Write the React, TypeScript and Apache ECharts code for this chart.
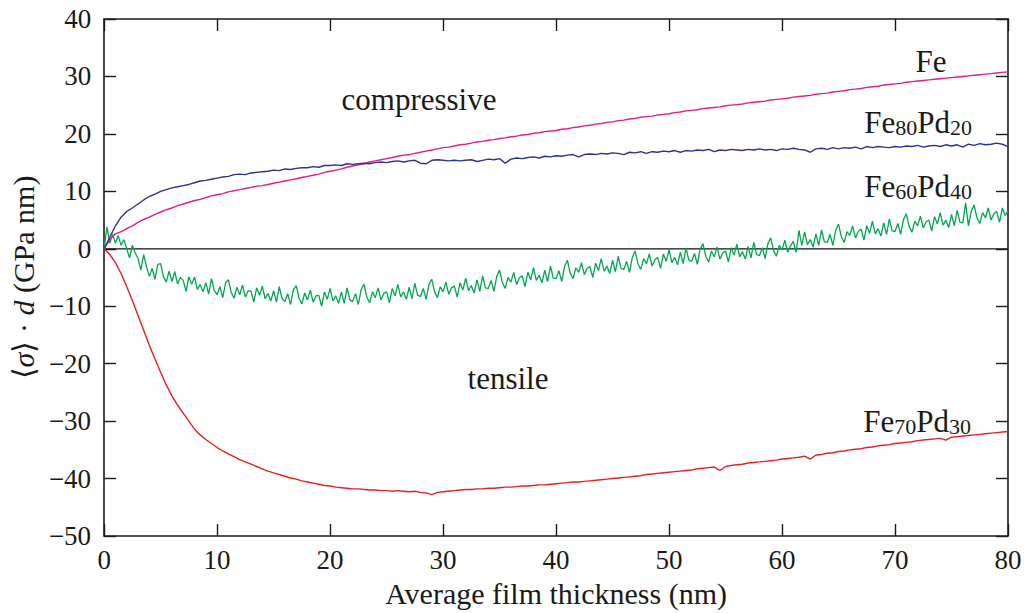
import React, { useEffect, useRef } from "react";
import * as echarts from "echarts";

// Average film thickness grids (nm): 0.5 nm for the smooth curves, 0.25 nm for the noisy Fe60Pd40 trace
const thickness: number[] = Array.from({ length: 161 }, (_, i) => i / 2);
const thicknessFine: number[] = Array.from({ length: 321 }, (_, i) => i / 4);

const xTicks = { min: 0, max: 80, interval: 10 };
const yTicks = { min: -50, max: 40, interval: 10 };

// <sigma>·d (GPa nm)
const fe: number[] = [
  0, 1.6, 2.6, 3.0, 3.5, 4.0, 4.6, 5.1, 5.5, 6.0, 6.4, 6.8, 7.1, 7.5, 7.8, 8.1, 8.4, 8.6, 8.9, 9.2,
  9.4, 9.6, 9.9, 10.1, 10.3, 10.5, 10.7, 10.9, 11.0, 11.2, 11.4, 11.6, 11.8, 12.0, 12.2, 12.4, 12.6, 12.8, 13.0, 13.3,
  13.5, 13.7, 13.9, 14.2, 14.4, 14.6, 14.8, 15.1, 15.3, 15.5, 15.7, 15.9, 16.1, 16.3, 16.4, 16.6, 16.8, 17.0, 17.2, 17.4,
  17.6, 17.7, 17.9, 18.1, 18.2, 18.4, 18.6, 18.7, 18.9, 19.0, 19.2, 19.3, 19.5, 19.6, 19.8, 19.9, 20.1, 20.2, 20.4, 20.5,
  20.6, 20.8, 20.9, 21.1, 21.2, 21.4, 21.5, 21.7, 21.8, 22.0, 22.1, 22.3, 22.4, 22.6, 22.7, 22.9, 23.0, 23.1, 23.3, 23.4,
  23.5, 23.7, 23.8, 24.0, 24.1, 24.2, 24.4, 24.5, 24.6, 24.7, 24.9, 25.0, 25.1, 25.2, 25.4, 25.5, 25.6, 25.7, 25.9, 26.0,
  26.1, 26.2, 26.4, 26.5, 26.6, 26.7, 26.9, 27.0, 27.1, 27.3, 27.4, 27.5, 27.7, 27.8, 27.9, 28.1, 28.2, 28.3, 28.5, 28.6,
  28.7, 28.8, 29.0, 29.1, 29.2, 29.3, 29.4, 29.5, 29.6, 29.7, 29.8, 29.9, 30.0, 30.1, 30.2, 30.3, 30.4, 30.5, 30.6, 30.7,
  30.8,
];

const fe80pd20: number[] = [
  0, 2.0, 4.0, 5.5, 6.5, 7.1, 7.8, 8.5, 9.1, 9.5, 10.0, 10.3, 10.6, 10.8, 11.0, 11.2, 11.5, 11.8, 11.9, 12.1,
  12.3, 12.5, 12.6, 12.9, 13.0, 12.9, 13.2, 13.3, 13.4, 13.5, 13.7, 13.6, 13.9, 13.8, 14.0, 14.1, 14.1, 14.3, 14.2, 14.5,
  14.5, 14.6, 14.5, 14.8, 14.7, 14.8, 14.9, 14.8, 15.0, 15.1, 15.0, 15.2, 15.3, 15.1, 15.3, 15.4, 14.9, 14.8, 15.4, 15.5,
  15.4, 15.3, 15.4, 15.3, 15.4, 15.5, 15.2, 15.4, 15.6, 15.5, 15.7, 14.9, 15.6, 15.8, 15.7, 15.9, 16.0, 15.8, 16.1, 16.0,
  16.2, 16.1, 16.3, 16.4, 16.0, 16.4, 16.5, 16.4, 16.6, 16.5, 16.7, 16.6, 16.4, 16.8, 16.7, 16.9, 16.6, 16.9, 16.8, 17.0,
  16.9, 17.1, 16.8, 17.1, 17.0, 17.2, 17.1, 17.3, 16.9, 17.2, 17.1, 17.3, 17.2, 17.1, 17.3, 17.2, 17.4, 17.2, 17.3, 17.1,
  17.4, 17.3, 17.5, 17.3, 17.2, 16.8, 17.4, 17.5, 17.3, 17.6, 17.4, 17.6, 17.5, 17.7, 17.4, 17.8, 17.6, 17.8, 17.7, 17.6,
  17.8, 17.7, 17.9, 17.8, 18.0, 17.7, 17.9, 18.0, 17.8, 18.1, 17.9, 18.1, 17.7, 18.2, 18.0, 18.3, 18.1, 18.2, 18.4, 18.2,
  17.8,
];

// Fe60Pd40 at 0.25 nm steps (noisy trace)
const fe60pd40: number[] = [
  0, 3.8, 1.0, 2.5, 1.0, 2.3, 0.6, 1.6, 0.0, -1.6, 0.6, -0.7,
  -1.7, -3.7, -1.0, -3.1, -4.8, -3.4, -5.3, -2.7, -2.6, -4.8, -5.8, -3.9, -5.7, -4.0, -6.1, -5.0,
  -5.5, -7.4, -4.9, -6.2, -4.9, -7.1, -6.2, -7.5, -5.9, -7.9, -5.2, -7.3, -8.0, -6.6, -8.5, -5.9,
  -5.4, -7.6, -8.6, -6.7, -8.0, -6.3, -8.4, -7.3, -7.4, -9.3, -6.8, -8.1, -6.5, -8.7, -7.8, -9.1,
  -7.3, -9.3, -6.6, -8.7, -9.2, -7.8, -9.7, -7.1, -6.4, -8.6, -9.6, -7.7, -8.9, -7.2, -9.3, -8.2,
  -8.1, -10.0, -7.5, -8.8, -6.9, -9.1, -8.2, -9.5, -7.5, -9.5, -6.8, -8.9, -9.2, -7.8, -9.7, -7.1,
  -6.2, -8.4, -9.4, -7.5, -8.5, -6.8, -8.9, -7.8, -7.5, -9.4, -6.9, -8.2, -6.2, -8.4, -7.5, -8.8,
  -6.7, -8.7, -6.0, -8.1, -8.3, -6.9, -8.8, -6.2, -5.3, -7.5, -8.5, -6.6, -7.5, -5.8, -7.9, -6.8,
  -6.5, -8.4, -5.9, -7.2, -5.1, -7.3, -6.4, -7.7, -5.4, -7.4, -4.7, -6.8, -6.9, -5.5, -7.4, -4.8,
  -3.7, -5.9, -6.9, -5.0, -5.8, -4.1, -6.2, -5.1, -4.7, -6.6, -4.1, -5.4, -3.3, -5.5, -4.6, -5.9,
  -3.7, -5.7, -3.0, -5.1, -5.2, -3.8, -5.7, -3.1, -2.0, -4.2, -5.2, -3.3, -4.1, -2.4, -4.5, -3.4,
  -3.1, -5.0, -2.5, -3.8, -1.7, -3.9, -3.0, -4.3, -2.0, -4.0, -1.3, -3.4, -3.6, -2.2, -4.1, -1.5,
  -0.4, -2.6, -3.6, -1.7, -2.6, -0.9, -3.0, -1.9, -1.5, -3.4, -0.9, -2.2, -0.2, -2.4, -1.5, -2.8,
  -0.6, -2.6, 0.1, -2.0, -2.2, -0.8, -2.7, -0.1, 0.9, -1.3, -2.3, -0.4, -1.4, 0.3, -1.8, -0.7,
  -0.4, -2.3, 0.2, -1.1, 0.8, -1.4, -0.5, -1.8, 0.4, -1.6, 1.1, -1.0, -1.2, 0.2, -1.7, 0.9,
  1.9, -0.3, -1.3, 0.6, -0.2, 1.5, -0.6, 0.5, 1.3, -0.6, 3.2, 0.6, 2.9, 0.7, 1.6, 0.3,
  2.6, 0.6, 3.3, 1.2, 1.1, 2.5, 0.6, 3.2, 4.3, 2.1, 1.1, 3.0, 2.3, 4.0, 1.9, 3.0,
  3.4, 1.5, 4.0, 2.7, 4.8, 2.6, 3.5, 2.2, 4.5, 2.5, 5.2, 3.1, 3.0, 4.4, 2.5, 5.1,
  6.1, 3.9, 2.9, 4.8, 4.0, 5.7, 3.6, 4.7, 5.0, 3.1, 5.6, 4.3, 6.3, 4.1, 5.0, 3.7,
  6.0, 4.0, 6.7, 4.6, 4.5, 8.0, 4.0, 6.6, 7.6, 5.4, 4.4, 6.3, 5.4, 7.1, 5.0, 6.1,
  6.5, 4.6, 7.1, 5.8, 6.6,
];

const fe70pd30: number[] = [
  0, -1.0, -2.4, -4.3, -6.6, -9.0, -11.6, -14.2, -16.8, -19.2, -21.5, -23.7, -25.6, -27.2, -28.6, -30.0, -31.4, -32.4, -33.2, -33.9,
  -34.6, -35.2, -35.7, -36.2, -36.7, -37.1, -37.5, -37.9, -38.3, -38.7, -39.0, -39.3, -39.6, -39.9, -40.1, -40.4, -40.6, -40.8, -41.0, -41.2,
  -41.3, -41.5, -41.6, -41.7, -41.8, -41.8, -41.9, -42.0, -42.0, -42.1, -42.1, -42.2, -42.1, -42.2, -42.3, -42.2, -42.4, -42.5, -42.8, -42.4,
  -42.3, -42.2, -42.1, -42.0, -41.9, -41.9, -41.8, -41.8, -41.7, -41.7, -41.6, -41.5, -41.5, -41.4, -41.3, -41.3, -41.2, -41.1, -41.1, -41.0,
  -40.9, -40.8, -40.7, -40.6, -40.6, -40.5, -40.4, -40.3, -40.2, -40.1, -40.0, -39.9, -39.8, -39.7, -39.6, -39.5, -39.3, -39.2, -39.1, -39.0,
  -38.9, -38.8, -38.7, -38.6, -38.5, -38.3, -38.2, -38.1, -38.0, -38.6, -37.9, -37.7, -37.6, -37.5, -37.3, -37.2, -37.1, -37.0, -36.9, -36.8,
  -36.6, -36.5, -36.4, -36.3, -36.1, -36.6, -35.9, -35.8, -35.6, -35.5, -35.3, -35.2, -35.0, -34.9, -34.8, -34.6, -34.5, -34.3, -34.2, -34.1,
  -33.9, -33.8, -33.7, -33.6, -33.4, -33.3, -33.2, -33.1, -33.0, -33.3, -32.8, -32.7, -32.6, -32.5, -32.4, -32.3, -32.2, -32.1, -32.0, -31.9,
  -31.8,
];

const zeroLine: number[][] = [
  [0, 0],
  [80, 0],
];

const FONT = "Liberation Serif";
const INK = "#1a1a1a";

const pair = (xs: number[], ys: number[]) => xs.map((x, i) => [x, ys[i]]);

export default function App() {
  const ref = useRef<HTMLDivElement>(null);
  useEffect(() => {
    if (!ref.current) return;
    const chart = echarts.init(ref.current, undefined, { renderer: "svg" });
    const axisLine = { show: true, onZero: false, lineStyle: { color: INK, width: 1.6 } };
    const tick = { show: true, inside: true, length: 12, lineStyle: { color: INK, width: 1.4 } };
    const minus = (v: number) => (v < 0 ? "\u2212" + Math.abs(v) : String(v));
    const richLabel = {
      n: { fontFamily: FONT, fontSize: 31, color: INK, lineHeight: 31, verticalAlign: "top" as const },
      s: { fontFamily: FONT, fontSize: 22, color: INK, lineHeight: 22, verticalAlign: "bottom" as const, padding: [13, 0, 0, 0] },
    };
    const label = (text: string, x: number, y: number, align: string) => ({
      type: "text",
      x,
      y,
      style: { text, rich: richLabel, fontFamily: FONT, fontSize: 31, fill: INK, align, verticalAlign: "top" },
    });
    const word = (text: string, x: number, y: number) => ({
      type: "text",
      x,
      y,
      style: { text, fontFamily: FONT, fontSize: 31, fill: INK, align: "center", verticalAlign: "middle" },
    });
    chart.setOption({
      animation: false,
      backgroundColor: "#ffffff",
      textStyle: { fontFamily: FONT },
      grid: { left: 104, right: 28, top: 19, bottom: 71, containLabel: false },
      xAxis: [
        {
          type: "value",
          ...xTicks,
          axisLine,
          axisTick: tick,
          splitLine: { show: false },
          axisLabel: { fontFamily: FONT, fontSize: 27, color: INK, margin: 10 },
          name: "Average film thickness (nm)",
          nameLocation: "middle",
          nameGap: 42,
          nameTextStyle: { fontFamily: FONT, fontSize: 30, color: INK },
        },
        {
          type: "value",
          position: "top",
          ...xTicks,
          axisLine,
          axisTick: tick,
          splitLine: { show: false },
          axisLabel: { show: false },
        },
      ],
      yAxis: [
        {
          type: "value",
          ...yTicks,
          axisLine,
          axisTick: tick,
          splitLine: { show: false },
          axisLabel: { fontFamily: FONT, fontSize: 27, color: INK, margin: 13, formatter: minus },
          name: "{n|\u27e8}{i|\u03c3}{n|\u27e9 \u00b7 }{i|d}{n| (GPa nm)}",
          nameLocation: "middle",
          nameGap: 62,
          nameRotate: 90,
          nameTextStyle: {
            fontFamily: FONT,
            fontSize: 30,
            color: INK,
            rich: {
              n: { fontFamily: FONT, fontSize: 30, color: INK },
              i: { fontFamily: FONT, fontSize: 30, color: INK, fontStyle: "italic" },
            },
          },
        },
        {
          type: "value",
          position: "right",
          ...yTicks,
          axisLine,
          axisTick: tick,
          splitLine: { show: false },
          axisLabel: { show: false },
        },
      ],
      series: [
        {
          type: "line",
          data: zeroLine,
          showSymbol: false,
          silent: true,
          lineStyle: { color: "#111111", width: 1.3 },
          z: 1,
        },
        { name: "Fe", type: "line", data: pair(thickness, fe), showSymbol: false, lineStyle: { color: "#e8198b", width: 1.4 }, z: 3 },
        { name: "Fe80Pd20", type: "line", data: pair(thickness, fe80pd20), showSymbol: false, lineStyle: { color: "#2e3192", width: 1.4 }, z: 3 },
        { name: "Fe60Pd40", type: "line", data: pair(thicknessFine, fe60pd40), showSymbol: false, lineStyle: { color: "#00a651", width: 1.3 }, z: 2 },
        { name: "Fe70Pd30", type: "line", data: pair(thickness, fe70pd30), showSymbol: false, lineStyle: { color: "#ed1c24", width: 1.4 }, z: 3 },
      ],
      graphic: [
        word("compressive", 419, 99),
        word("tensile", 508, 378),
        label("{n|Fe}", 931, 46, "center"),
        label("{n|Fe}{s|80}{n|Pd}{s|20}", 972, 107, "right"),
        label("{n|Fe}{s|60}{n|Pd}{s|40}", 972, 171, "right"),
        label("{n|Fe}{s|70}{n|Pd}{s|30}", 971, 406, "right"),
      ],
    });
    return () => chart.dispose();
  }, []);
  return (
    <div
      ref={ref}
      style={{ position: "fixed", left: 0, top: 0, width: 1036, height: 613, background: "#fff" }}
    />
  );
}
